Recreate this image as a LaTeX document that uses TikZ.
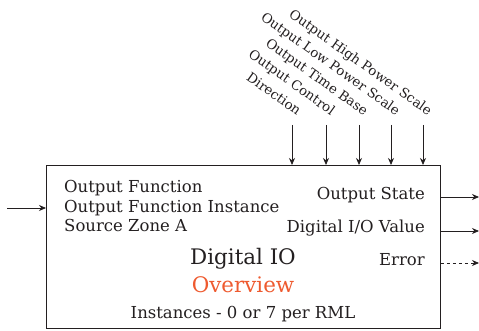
\documentclass[tikz,border=0pt]{standalone}
\usepackage{fontspec}
\setmainfont{DejaVu Serif}
\usepackage{tikz}
\usetikzlibrary{arrows.meta, calc}

\definecolor{inkgray}{HTML}{231F20}
\definecolor{ovorange}{HTML}{EE5A2F}

\tikzset{
    toplabel/.style={rotate=-35.5, anchor=base east, inner sep=0pt, text=inkgray,
        font=\fontsize{13.3}{16}\selectfont},
    sigarrow/.style={line width=0.8pt, inkgray, -{Stealth[length=7pt, width=6pt]}},
    blocktext/.style={inner sep=0pt, text=inkgray, font=\fontsize{16.5}{19}\selectfont}
}

\begin{document}
\begin{tikzpicture}[x=1pt, y=-1pt]
            \useasboundingbox (0,0) rectangle (479,331);
            % Block
            \node[draw=inkgray, line width=0.8pt, anchor=north west, minimum width=394pt,
                minimum height=163pt, inner sep=0pt] (block) at (46,165) {};

            % Inputs on top
            \node[toplabel] (dirlbl) at (297,116) {Direction};
            \node[toplabel] (ctllbl) at (331,116) {Output Control};
            \node[toplabel] (tblbl) at (364,116) {Output Time Base};
            \node[toplabel] (lowlbl) at (396,116) {Output Low Power Scale};
            \node[toplabel] (highlbl) at (428,116) {Output High Power Scale};
            \coordinate (dirin) at (292,125);
            \coordinate (ctlin) at (326,125);
            \coordinate (tbin) at (359,125);
            \coordinate (lowin) at (391,125);
            \coordinate (highin) at (423,125);
            \draw[sigarrow] (dirin) -- (dirin |- block.north);
            \draw[sigarrow] (ctlin) -- (ctlin |- block.north);
            \draw[sigarrow] (tbin) -- (tbin |- block.north);
            \draw[sigarrow] (lowin) -- (lowin |- block.north);
            \draw[sigarrow] (highin) -- (highin |- block.north);

            % Input on the left
            \coordinate (srcin) at (7,208);
            \draw[sigarrow] (srcin) -- (srcin -| block.west);
            \node[blocktext, anchor=base west] (fnlbl) at (64,193) {Output Function};
            \node[blocktext, anchor=base west] (instlbl) at (64,212) {Output Function Instance};
            \node[blocktext, anchor=base west] (zonelbl) at (64,231) {Source Zone A};

            % Outputs on the right
            \node[blocktext, anchor=base east] (statelbl) at (425,200) {Output State};
            \node[blocktext, anchor=base east] (vallbl) at (425,233) {Digital I/O Value};
            \node[blocktext, anchor=base east] (errlbl) at (425,265) {Error};
            \coordinate (stateout) at (479,197);
            \coordinate (valout) at (479,231);
            \coordinate (errout) at (479,263);
            \draw[sigarrow] (stateout -| block.east) -- (stateout);
            \draw[sigarrow] (valout -| block.east) -- (valout);
            \draw[sigarrow, dashed] (errout -| block.east) -- (errout);

            % Title
            \node[inner sep=0pt, anchor=base, text=inkgray, font=\fontsize{21.4}{26}\selectfont] (title) at (243,264) {Digital IO};
            \node[inner sep=0pt, anchor=base, text=ovorange, font=\fontsize{21.4}{26}\selectfont] (overview) at (243,292) {Overview};
            \node[blocktext, anchor=base] (countlbl) at (243,318) {Instances - 0 or 7 per RML};
        \end{tikzpicture}
\end{document}
